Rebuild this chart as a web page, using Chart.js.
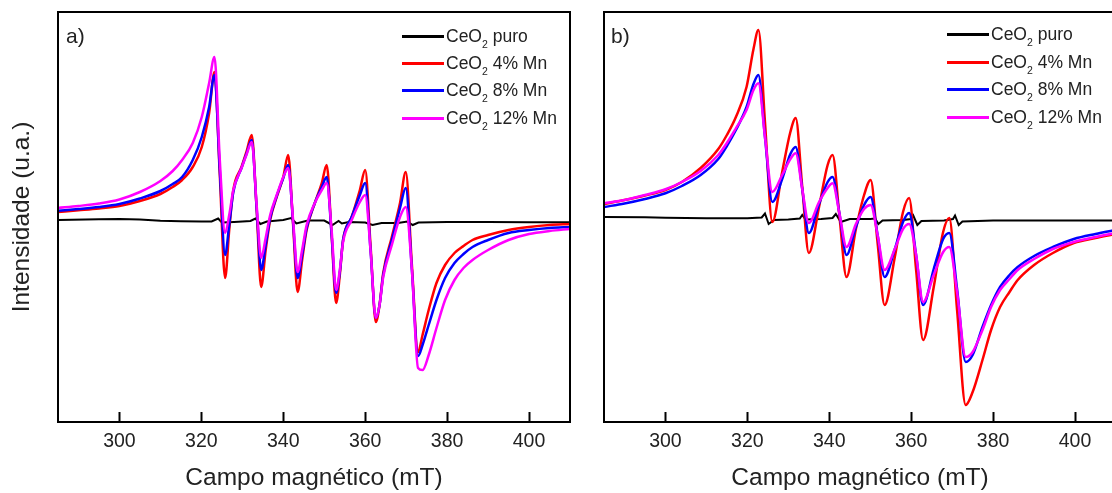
<!DOCTYPE html>
<html>
<head>
<meta charset="utf-8">
<script src="https://cdn.jsdelivr.net/npm/chart.js@4/dist/chart.umd.min.js"></script>
<style>
html,body{margin:0;padding:0;background:#fff;overflow:hidden;width:1112px;height:493px;}
#wrap{position:relative;width:1112px;height:493px;overflow:hidden;font-family:"Liberation Sans",Arial,sans-serif;color:#222;}
canvas{position:absolute;top:0;}
.lbl{position:absolute;font-size:21px;line-height:21px;white-space:nowrap;}
.row{position:absolute;height:20px;white-space:nowrap;}
.row .ln{position:absolute;left:0;top:9px;width:42px;height:2.5px;}
.row .tx{position:absolute;left:44px;top:0;font-size:17.5px;line-height:20px;}
.row sub{font-size:10.5px;vertical-align:-6px;line-height:0;}
</style>
</head>
<body>
<div id="wrap">
  <canvas id="cA" width="580" height="493" style="left:0px"></canvas>
  <canvas id="cB" width="566" height="493" style="left:560px"></canvas>
  <div class="lbl" style="left:66px;top:25px">a)</div>
  <div class="lbl" style="left:611px;top:25px">b)</div>
  <div id="legA"></div>
  <div id="legB"></div>
</div>
<script>
// ---------- data ----------
const seriesNames = ['CeO₂ puro', 'CeO₂ 4% Mn', 'CeO₂ 8% Mn', 'CeO₂ 12% Mn'];
const seriesColors = ['#000000', '#ff0000', '#0000ff', '#ff00ff'];
const tickValues = [300, 320, 340, 360, 380, 400];
const xTitle = 'Campo magnético (mT)';
const yTitle = 'Intensidade (u.a.)';

// panel a) — magnetic field (mT) and intensities (a.u.)
const pureFieldA = [285, 295, 300, 305, 310, 315, 320, 322.5, 324.1, 325, 328, 332, 333.2, 334.4, 336, 340, 341.9, 343.2, 346, 350, 352, 353.5, 354.3, 356, 360, 361.8, 364, 368, 370.3, 371.6, 373, 380, 390, 400, 410];
const pureA = [0, 0.7, 1, 0.5, -0.8, -1.3, -1.5, -1.5, 1.5, -2.5, -2, -1, 1.5, -4, -1.5, 0, 2, -3.5, -0.5, -0.5, -5, -1, -3.5, -2, -2.5, -5, -3, -3, -1.5, -5, -2.5, -2, -2, -2.3, -2.3];
const fieldA = [285, 290, 295, 300, 305, 310, 313, 315.3, 317.9, 320.1, 321.9, 323.2, 324.5, 325.8, 326.8, 327.8, 329.8, 331, 332.3, 333.5, 334.6, 335.7, 336.8, 338.4, 340, 341.2, 342.4, 343.5, 344.6, 345.7, 347.7, 349.4, 350.6, 351.8, 352.9, 353.8, 354.6, 356.7, 358.7, 360, 361.3, 362.6, 363.5, 364.4, 366.5, 368.5, 369.9, 371.4, 372.9, 374, 375.5, 377.4, 379.5, 381.8, 384, 386.2, 390, 395, 400, 405, 410];
const mn4A = [8, 9.7, 11.5, 14, 19, 26, 33, 40, 53, 73, 107, 148, 45, -58, -10, 30, 53, 68, 85, 10, -67, -30, 0, 23, 43, 65, -5, -72, -40, -10, 17, 37, 55, -15, -83, -55, -20, 3, 30, 50, -25, -102, -85, -53, -17, 17, 48, -45, -132, -115, -90, -63, -45, -33, -26, -20, -15, -10, -7, -5, -4];
const mn8A = [9.3, 11, 13, 16, 21.5, 29, 36, 43, 60, 83, 113, 145, 50, -35, -5, 28, 52, 66, 80, 12, -50, -25, 2, 24, 42, 55, -3, -58, -35, -8, 17, 33, 43, -15, -73, -52, -20, 3, 25, 37, -30, -98, -85, -55, -20, 12, 32, -50, -136, -125, -105, -80, -58, -43, -34, -27, -20, -13, -10, -8, -7];
const mn12A = [12, 14, 16.5, 20.5, 28, 39, 49, 60, 77, 103, 137, 163, 60, -13, 5, 30, 52, 65, 78, 15, -38, -18, 5, 25, 43, 52, 0, -52, -30, -5, 17, 30, 37, -10, -70, -50, -22, 0, 18, 25, -30, -98, -85, -57, -25, 3, 13, -50, -148, -150, -135, -108, -80, -60, -48, -40, -30, -20, -14, -11, -9];

// panel b)
const pureFieldB = [285, 295, 300, 310, 320, 323.5, 324.3, 325.2, 326.5, 330, 332.8, 333.4, 334.2, 338, 340.8, 341.6, 342.8, 345, 350, 351.2, 352, 353, 358, 360, 360.5, 361.5, 362.5, 368, 370.2, 370.7, 371.6, 372.5, 380, 390, 400, 410];
const pureB = [0, -0.3, -0.7, -1.3, -1.3, -0.5, 3.5, -7, -3, -2.5, -1.5, 2, -2.5, -2, -1, 3, -5, -2, -2, -1.5, -7, -3.5, -3, -2, 1.5, -8, -4, -3.5, -2, 1.5, -8, -4.5, -3.5, -3.5, -3.5, -3.5];
const fieldB = [285, 290, 295, 300, 304, 308.6, 312.9, 315, 317.2, 319.8, 321.5, 322.7, 324.3, 326.1, 328.5, 330.5, 331.8, 333.4, 335, 337.5, 339.6, 340.8, 342.5, 344.2, 346.5, 348.5, 350.1, 351.8, 353.5, 356, 358, 359.5, 361.2, 362.9, 365.5, 367.8, 369.3, 371.2, 373.3, 375, 377.4, 379.5, 381.7, 384, 386, 390, 394.6, 399.7, 405, 410];
const mn4B = [13, 17, 21.5, 27, 35, 49, 68, 82, 100, 130, 168, 187, 95, -5, 45, 85, 99, 30, -36, 10, 52, 62, 0, -60, -12, 22, 37, -26, -88, -40, 5, 19, -53, -123, -70, -15, -1, -93, -188, -175, -143, -113, -90, -75, -63, -48, -36, -26, -21, -17];
const mn8B = [10, 13.5, 18, 23.7, 31, 42, 58, 71, 87, 110, 133, 142, 80, 15, 38, 63, 70, 28, -16, 13, 35, 40, 3, -38, -10, 12, 20, -18, -60, -32, -5, 4, -38, -88, -52, -22, -16, -72, -145, -138, -110, -88, -70, -58, -50, -39, -30, -22, -17, -13];
const mn12B = [13.7, 17, 22, 27.7, 35, 46, 62, 74, 88.7, 107, 127, 133.7, 80, 25, 42, 58, 63.7, 28, -6, 15, 29, 33.7, 3, -30, -7, 8, 12, -18, -53, -32, -12, -7, -38, -85, -58, -35, -30, -75, -140, -135, -113, -90, -73, -62, -53, -42, -32, -25, -20, -16];

// ---------- chart building ----------
const FONT = '"Liberation Sans", Arial, sans-serif';
const pts = (xs, ys) => xs.map((x, i) => ({x: x, y: ys[i]}));

const framePlugin = {
  id: 'frame',
  afterDatasetsDraw(chart) {
    const {ctx, chartArea: a} = chart;
    ctx.save();
    ctx.strokeStyle = '#000';
    ctx.lineWidth = 2;
    ctx.strokeRect(a.left, a.top, a.right - a.left, a.bottom - a.top);
    ctx.restore();
  }
};

function makeDatasets(pureX, pure, fx, s4, s8, s12) {
  const ys = [pure, s4, s8, s12];
  const orders = [3, 2, 1, 0];
  return ys.map((y, i) => ({
    label: seriesNames[i],
    data: pts(i === 0 ? pureX : fx, y),
    borderColor: seriesColors[i],
    backgroundColor: seriesColors[i],
    borderWidth: i === 0 ? 2 : 2.5,
    pointRadius: 0,
    fill: false,
    order: orders[i],
    tension: 0,
    cubicInterpolationMode: i === 0 ? 'default' : 'monotone'
  }));
}

function makeChart(id, datasets, yMin, yMax, showY, padLeft) {
  return new Chart(document.getElementById(id), {
    type: 'line',
    data: {datasets: datasets},
    plugins: [framePlugin],
    options: {
      responsive: false,
      animation: false,
      events: [],
      layout: {padding: {top: 12, right: 10, left: padLeft, bottom: 0}},
      plugins: {legend: {display: false}, tooltip: {enabled: false}},
      scales: {
        x: {
          type: 'linear',
          min: 285, max: 410,
          afterBuildTicks: s => { s.ticks = tickValues.map(v => ({value: v})); },
          afterFit: s => { s.height = 71; },
          ticks: {
            callback: v => String(v),
            font: {family: FONT, size: 19.5},
            color: '#222',
            padding: 18,
            maxRotation: 0,
            autoSkip: false
          },
          grid: {display: true, drawOnChartArea: false, drawTicks: true, tickLength: -10, tickWidth: 2, tickColor: '#000'},
          border: {display: false},
          title: {display: true, text: xTitle, font: {family: FONT, size: 24.5}, color: '#222', padding: {top: 0, bottom: 0}}
        },
        y: {
          type: 'linear',
          min: yMin, max: yMax,
          display: showY,
          afterFit: s => { s.width = showY ? 58 : 0; },
          ticks: {display: false},
          grid: {display: false},
          border: {display: false},
          title: {display: showY, text: yTitle, font: {family: FONT, size: 24.5}, color: '#222', padding: {top: 8, bottom: 0}}
        }
      }
    }
  });
}

makeChart('cA', makeDatasets(pureFieldA, pureA, fieldA, mn4A, mn8A, mn12A), -202, 208, true, 0);
makeChart('cB', makeDatasets(pureFieldB, pureB, fieldB, mn4B, mn8B, mn12B), -205, 205, false, 44);

// ---------- HTML legends ----------
function buildLegend(el, left, tops) {
  seriesNames.forEach((name, i) => {
    const row = document.createElement('div');
    row.className = 'row';
    row.style.left = left + 'px';
    row.style.top = (tops[i] - 10) + 'px';
    const ln = document.createElement('span');
    ln.className = 'ln';
    ln.style.background = seriesColors[i];
    const tx = document.createElement('span');
    tx.className = 'tx';
    tx.innerHTML = name.replace('₂', '<sub>2</sub>');
    row.appendChild(ln);
    row.appendChild(tx);
    el.appendChild(row);
  });
}
buildLegend(document.getElementById('legA'), 402, [36, 63, 90, 118]);
buildLegend(document.getElementById('legB'), 947, [34, 62, 89, 117]);
</script>
</body>
</html>
